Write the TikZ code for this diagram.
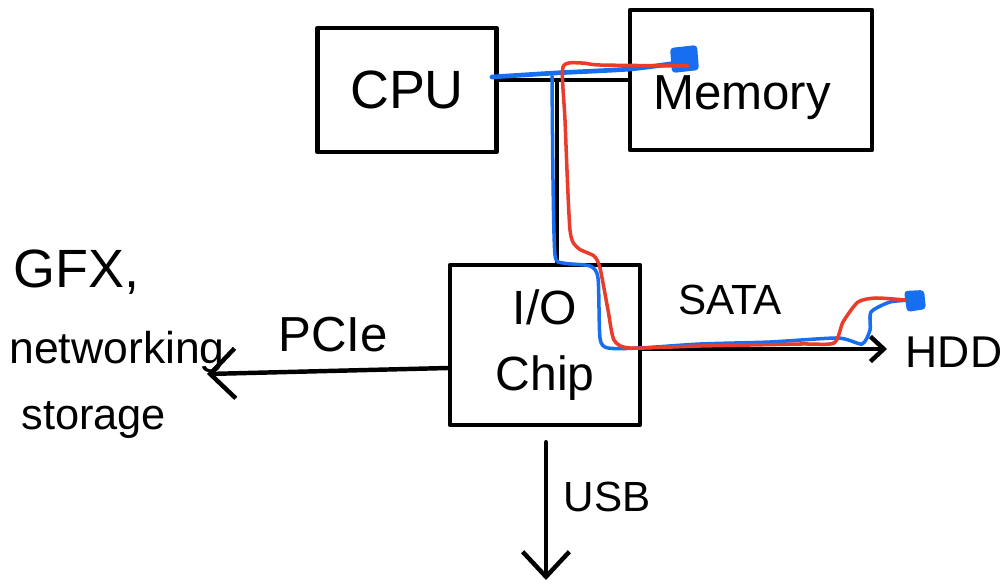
\documentclass[tikz,border=0pt]{standalone}
\usepackage{fontspec}
\setmainfont{Liberation Sans}
\usetikzlibrary{arrows.meta}
\definecolor{penblue}{RGB}{24,110,240}
\definecolor{penred}{RGB}{234,60,42}

\begin{document}
\begin{tikzpicture}[x=0.03cm,y=-0.03cm,
    pen/.style={line width=3.8pt,line cap=round,line join=round},
    box/.style={draw,pen,inner sep=0pt},
    hand/.style={inner sep=1pt,font=\fontsize{#1}{#1}\selectfont},
    trace/.style={line width=3pt,line cap=round,line join=round}]
  \useasboundingbox (0,0) rectangle (1008,585);
  % the three boxes
  \node[box,minimum width=5.37cm,minimum height=3.72cm,hand=46] (cpu) at (407,90) {CPU};
  \node[box,minimum width=7.26cm,minimum height=4.2cm] (mem) at (751,80) {};
  \node[hand=42] (memtxt) at (742,98) {Memory};
  \node[box,minimum width=5.7cm,minimum height=4.8cm,align=center,
        font=\fontsize{41}{56}\selectfont] (io) at (545,345) {I/O\\Chip};
  % labels
  \node[hand=36] (sata) at (730,300) {SATA};
  \node[hand=38] (hdd) at (954,352) {HDD};
  \node[hand=42] (pcie) at (333,335) {PCIe};
  \node[hand=46,anchor=west] (gfx) at (12,272) {GFX,};
  \node[hand=38,anchor=west] (net) at (8,352) {networking};
  \node[hand=37,anchor=west] (sto) at (20,420) {storage};
  \node[hand=36] (usb) at (607,497) {USB};
  % bus
  \coordinate (j) at (557,80);
  \draw[pen] (cpu.east |- j) -- (mem.west |- j);
  \draw[pen] (j) -- (io.north -| j);
  \coordinate (sataend) at (887,349);
  \coordinate (pcieend) at (207,374);
  \coordinate (usbend) at (546,580);
  \draw[pen,-{Straight Barb[length=0.4cm,width=0.75cm]}] (io.east |- sataend) -- (sataend);
  \draw[pen,-{Straight Barb[length=0.75cm,width=1.5cm]}] (io.west |- 0,368) -- (pcieend);
  \draw[pen,shorten <=0.45cm,-{Straight Barb[length=0.75cm,width=1.4cm]}] (io.south -| usbend) -- (usbend);
  % blue trace
  \draw[trace,penblue,line width=4pt] plot[smooth,tension=0.4] coordinates {(492,77) (555,73) (630,69) (684,62)};
  \draw[trace,penblue] plot[smooth,tension=0.4] coordinates {(552,76) (553,180) (555,255) (563,263) (590,266)
    (598,278) (600,338) (608,348) (640,348) (700,344) (770,342) (838,338) (862,344) (870,330) (871,312) (890,302) (912,300)};
  \fill[penblue,rounded corners=3pt] (670,48) -- (697,45) -- (699,70) -- (672,73) -- cycle;
  \fill[penblue,rounded corners=3pt] (904,291) -- (924,290) -- (926,309) -- (907,312) -- cycle;
  % red trace
  \draw[trace,penred] plot[smooth,tension=0.4] coordinates {(688,66) (600,65) (582,63) (563,67) (565,120)
    (570,230) (578,248) (594,256) (600,268) (608,310) (614,340) (630,348) (700,346) (800,344) (834,343)
    (843,322) (858,302) (876,298) (905,300)};
\end{tikzpicture}
\end{document}
